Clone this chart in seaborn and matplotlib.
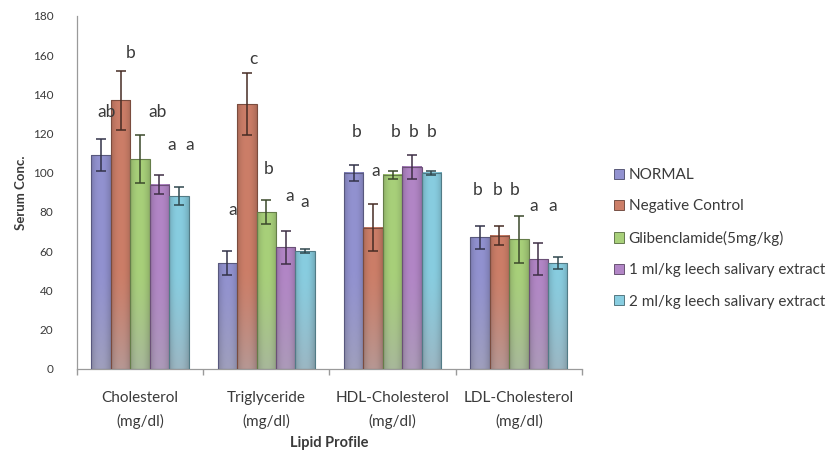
import numpy as np
import pandas as pd
import matplotlib
matplotlib.use("Agg")
import matplotlib.pyplot as plt
import seaborn as sns
from matplotlib.colors import to_rgb
from matplotlib.patches import Patch

# ---- data -------------------------------------------------------------
categories = ["Cholesterol\n(mg/dl)", "Triglyceride\n(mg/dl)",
              "HDL-Cholesterol\n(mg/dl)", "LDL-Cholesterol\n(mg/dl)"]
groups = ["NORMAL", "Negative Control", "Glibenclamide(5mg/kg)",
          "1 ml/kg leech salivary extract", "2 ml/kg leech salivary extract"]

normal = [109, 54, 100, 67]
negative = [137, 135, 72, 68]
gliben = [107, 80, 99, 66]
leech_1 = [94, 62, 103, 56]
leech_2 = [88, 60, 100, 54]

normal_err = [8, 6, 4, 6]
negative_err = [15, 16, 12, 5]
gliben_err = [12, 6, 2, 12]
leech_1_err = [5, 8.5, 6, 8]
leech_2_err = [4.5, 1, 1, 3]

# significance letters (same letter = no significant difference)
normal_sig = ["ab", "a", "b", "b"]
negative_sig = ["b", "c", "a", "b"]
gliben_sig = ["ab", "b", "b", "b"]
leech_1_sig = ["a", "a", "b", "a"]
leech_2_sig = ["a", "a", "b", "a"]

values = [normal, negative, gliben, leech_1, leech_2]
errors = [normal_err, negative_err, gliben_err, leech_1_err, leech_2_err]
letters = [normal_sig, negative_sig, gliben_sig, leech_1_sig, leech_2_sig]

# ---- layout of the letter annotations ----------------------------------
letter_y = [[131, 81, 121, 91],
            [161, 158, 101, 91],
            [131, 102, 121, 91],
            [114, 88, 121, 83],
            [114, 85, 121, 83]]
letter_dx = [[4, 4, 2, -1.5],
             [7, 5, 2, -1],
             [13, 1.5, 2, -3],
             [9, 3, 1, -3],
             [8, 0, 0, -3.5]]

colors = ["#9292d0", "#cc7e68", "#a8d07a", "#b286c6", "#88cde0"]
base_gray = np.array(to_rgb("#a8a8b0"))

df = pd.DataFrame({
    "category": np.tile(categories, len(groups)),
    "group": np.repeat(groups, len(categories)),
    "value": np.concatenate(values),
})

sns.set_theme(style="white")
plt.rcParams["font.family"] = ["Lato", "DejaVu Sans"]

fig = plt.figure(figsize=(8.35, 4.51), dpi=100)
ax = fig.add_axes([0.092, 0.182, 0.605, 0.783])

sns.barplot(data=df, x="category", y="value", hue="group",
            order=categories, hue_order=groups, palette=colors,
            errorbar=None, width=0.77, gap=0, legend=False, ax=ax)

bars = [p for p in ax.patches if p.get_height() > 0]

# horizontal shading across a bar: slightly darker towards its sides
cols = np.linspace(-1, 1, 24)
side_shade = 1 - 0.16 * np.abs(cols) ** 2.2

text_col = "#3a3a3a"
for i in range(len(groups)):
    base = np.array(to_rgb(colors[i]))
    dark = base * 0.35
    for j in range(len(categories)):
        p = bars[i * len(categories) + j]
        x0, w, h = p.get_x(), p.get_width(), p.get_height()
        xc = x0 + w / 2
        # vertical fill: full colour above, fading to grey near the base
        ys = np.linspace(0, h, 80)
        t = np.clip(ys / 50.0, 0, 1)
        mix = 0.6 * (1 - t) ** 1.3
        rgb = (1 - mix)[:, None] * base + mix[:, None] * base_gray
        img = rgb[::-1][:, None, :] * side_shade[None, :, None]
        ax.imshow(np.clip(img, 0, 1), extent=(x0, x0 + w, 0, h),
                  aspect="auto", origin="upper", interpolation="bilinear",
                  zorder=2)
        p.set_facecolor("none")
        p.set_edgecolor(base * 0.6)
        p.set_linewidth(0.8)
        p.set_zorder(3)
        ax.errorbar(xc, values[i][j], yerr=errors[i][j], fmt="none",
                    ecolor=dark, elinewidth=1.1, capsize=3.4, capthick=1.1,
                    zorder=4)
        ax.annotate(letters[i][j], (xc, letter_y[i][j]),
                    xytext=(letter_dx[i][j], 0), textcoords="offset points",
                    ha="center", va="center", fontsize=12.5, color=text_col,
                    zorder=5)

ax.set_xlim(-0.5, len(categories) - 0.5)
ax.set_ylim(0, 180)

# axes styling
for side in ("top", "right"):
    ax.spines[side].set_visible(False)
for side in ("left", "bottom"):
    ax.spines[side].set_color("#9a9a9a")
    ax.spines[side].set_linewidth(0.9)
ax.set_yticks(np.arange(0, 181, 20))
ax.tick_params(axis="y", which="major", direction="out", length=4,
               color="#9a9a9a", labelsize=8.5, labelcolor=text_col, pad=13)
ax.set_xticks(range(len(categories)))
ax.set_xticklabels(categories, linespacing=1.75)
ax.set_xticks(np.arange(-0.5, len(categories), 1.0), minor=True)
ax.tick_params(axis="x", which="major", length=0, labelsize=11,
               labelcolor=text_col, pad=16)
ax.tick_params(axis="x", which="minor", direction="out", length=4,
               color="#9a9a9a", bottom=True)
ax.set_xlabel("Lipid Profile", fontsize=10.5, fontweight="bold",
              color=text_col, labelpad=5)
ax.set_ylabel("Serum Conc.", fontsize=9.5, fontweight="bold",
              color=text_col, labelpad=4)

handles = [Patch(facecolor=c, edgecolor=np.array(to_rgb(c)) * 0.5,
                 linewidth=0.6) for c in colors]
fig.legend(handles, groups, loc="upper left", bbox_to_anchor=(0.728, 0.641),
           frameon=False, fontsize=11, labelcolor=text_col,
           handlelength=0.65, handleheight=0.65, handletextpad=0.3,
           labelspacing=1.14, borderaxespad=0)

fig.savefig("out.png", dpi=100, facecolor="white")
